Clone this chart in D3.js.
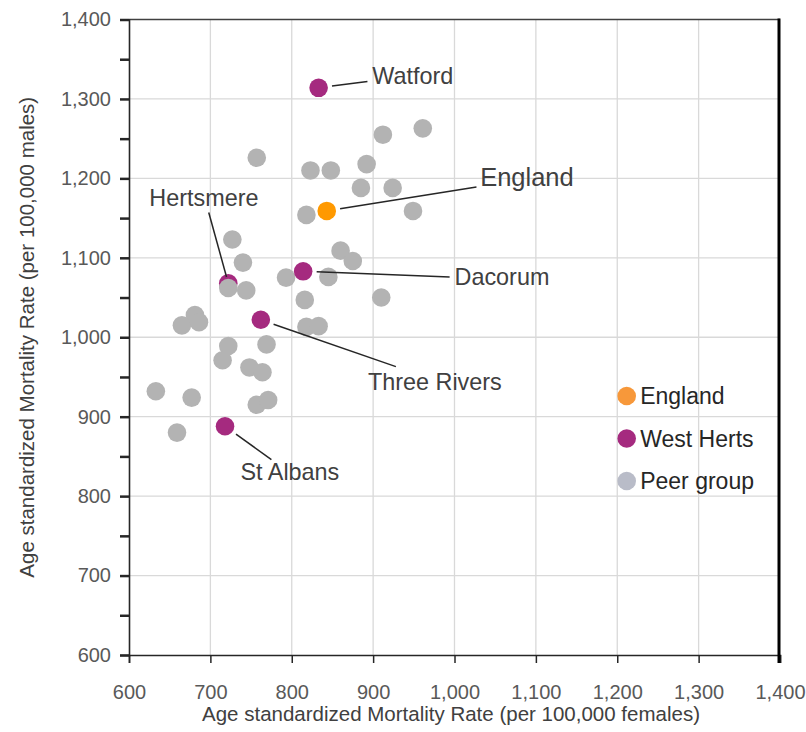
<!DOCTYPE html>
<html>
<head>
<meta charset="utf-8">
<script src="https://cdn.jsdelivr.net/npm/d3@7"></script>
<style>
  body { margin: 0; background: #fff; }
  svg text { font-family: "Liberation Sans", Arial, sans-serif; }
</style>
</head>
<body>
<div id="chart"></div>
<script>
// Peer group local authorities (female rate, male rate)
const peerFemale = [912, 961, 757, 823, 848, 892, 885, 924, 949, 818, 727, 740, 860, 875, 793, 845,
                    722, 744, 816, 910, 681, 665, 686, 818, 833, 722, 769, 715, 748, 764, 633, 677,
                    757, 771, 659]
const peerMale = [1255, 1263, 1226, 1210, 1210, 1218, 1188, 1188, 1159, 1154, 1123, 1094, 1109, 1096, 1075, 1076,
                  1062, 1059, 1047, 1050, 1028, 1015, 1019, 1013, 1014, 989, 991, 971, 962, 956, 932, 924,
                  915, 921, 880]

// West Herts districts
const westNames = ["Hertsmere", "Watford", "Dacorum", "Three Rivers", "St Albans"]
const westFemale = [722, 833, 814, 762, 718]
const westMale = [1068, 1314, 1083, 1022, 888]

// England average
const englandFemale = [843]
const englandMale = [1159]

// Annotations: label anchor and leader line end, in data units
const labelNames = ["Watford", "England", "Hertsmere", "Dacorum", "Three Rivers", "St Albans"]
const labelX = [899, 1031.5, 692, 1000, 893.6, 737]
const labelY = [1319, 1190, 1165, 1066, 934, 820]
const leaderX = [893, 1027, 698, 994, 928, 775]
const leaderY = [1322, 1189, 1157, 1076, 963, 846]

const legendNames = ["England", "West Herts", "Peer group"]
const legendColors = ["#f7983a", "#a52a7f", "#b9bcc8"]

const xTicks = d3.range(600, 1401, 100)
const yTicks = d3.range(600, 1401, 50)

const width = 806
const height = 732
const margin = { top: 19.5, right: 26, bottom: 77, left: 129 }

const svg = d3.select("#chart")
    .append("svg")
    .attr("width", width)
    .attr("height", height)

const x = d3.scaleLinear().domain([600, 1400]).range([margin.left, width - margin.right])
const y = d3.scaleLinear().domain([600, 1400]).range([height - margin.bottom, margin.top])

const colEngland = "#ff9900"
const colWest = "#a52a7f"
const colPeer = "#b3b3b3"
const r = 9.3

// gridlines
svg.append("g")
    .selectAll("line")
    .data(xTicks.slice(1, -1))
    .join("line")
    .attr("x1", d => x(d)).attr("x2", d => x(d))
    .attr("y1", y(1400)).attr("y2", y(600))
    .attr("stroke", "#d9d9d9").attr("stroke-width", 1.3)
svg.append("g")
    .selectAll("line")
    .data(xTicks.slice(1, -1))
    .join("line")
    .attr("y1", d => y(d)).attr("y2", d => y(d))
    .attr("x1", x(600)).attr("x2", x(1400))
    .attr("stroke", "#d9d9d9").attr("stroke-width", 1.3)

// top border
svg.append("line")
    .attr("x1", x(600)).attr("x2", x(1400))
    .attr("y1", y(1400)).attr("y2", y(1400))
    .attr("stroke", "#404040").attr("stroke-width", 1.5)

// axes
const fmt = d3.format(",")
const xAxis = svg.append("g")
    .attr("transform", "translate(0," + y(600) + ")")
    .call(d3.axisBottom(x).tickValues(xTicks).tickSize(8).tickPadding(22).tickFormat(fmt))
xAxis.select(".domain").attr("stroke", "#262626").attr("stroke-width", 1.6)
xAxis.selectAll(".tick line").attr("stroke", "#262626").attr("stroke-width", 1.5)
xAxis.selectAll("text").attr("font-size", 20).attr("fill", "#595959")

const yAxis = svg.append("g")
    .attr("transform", "translate(" + x(600) + ",0)")
    .call(d3.axisLeft(y).tickValues(yTicks).tickSize(9).tickPadding(9)
        .tickFormat(d => d % 100 === 0 ? fmt(d) : ""))
yAxis.select(".domain").attr("stroke", "#262626").attr("stroke-width", 1.6)
yAxis.selectAll(".tick line").attr("stroke", "#262626").attr("stroke-width", 2.5)
yAxis.selectAll("text").attr("font-size", 20).attr("fill", "#595959")

// right border, thick, running past the axis like a tick
svg.append("line")
    .attr("x1", x(1400) - 1).attr("x2", x(1400) - 1)
    .attr("y1", y(1400) - 1).attr("y2", y(600) + 8)
    .attr("stroke", "#000").attr("stroke-width", 3)

// axis titles
svg.append("text")
    .attr("x", 451).attr("y", 720.5)
    .attr("text-anchor", "middle")
    .attr("font-size", 20.5).attr("fill", "#404040")
    .text("Age standardized Mortality Rate (per 100,000 females)")
svg.append("text")
    .attr("transform", "translate(34," + ((y(600) + y(1400)) / 2) + ") rotate(-90)")
    .attr("text-anchor", "middle")
    .attr("font-size", 20.5).attr("fill", "#404040")
    .text("Age standardized Mortality Rate (per 100,000 males)")

// points: Hertsmere sits below the peer markers
const west = westNames.map((n, i) => ({ name: n, f: westFemale[i], m: westMale[i] }))
const peer = peerFemale.map((f, i) => ({ f: f, m: peerMale[i] }))
const england = englandFemale.map((f, i) => ({ f: f, m: englandMale[i] }))

svg.append("g")
    .selectAll("circle")
    .data(west.filter(d => d.name === "Hertsmere"))
    .join("circle")
    .attr("cx", d => x(d.f)).attr("cy", d => y(d.m)).attr("r", r)
    .attr("fill", colWest)

svg.append("g")
    .selectAll("circle")
    .data(peer)
    .join("circle")
    .attr("cx", d => x(d.f)).attr("cy", d => y(d.m)).attr("r", r)
    .attr("fill", colPeer)

svg.append("g")
    .selectAll("circle")
    .data(west.filter(d => d.name !== "Hertsmere"))
    .join("circle")
    .attr("cx", d => x(d.f)).attr("cy", d => y(d.m)).attr("r", r)
    .attr("fill", colWest)

svg.append("g")
    .selectAll("circle")
    .data(england)
    .join("circle")
    .attr("cx", d => x(d.f)).attr("cy", d => y(d.m)).attr("r", r)
    .attr("fill", colEngland)

// leader lines and labels
const pointOf = function (name) {
    if (name === "England") return { f: englandFemale[0], m: englandMale[0] }
    const i = westNames.indexOf(name)
    return { f: westFemale[i], m: westMale[i] }
}
const notes = labelNames.map((n, i) => {
    const p = pointOf(n)
    const px = x(p.f), py = y(p.m)
    const ex = x(leaderX[i]), ey = y(leaderY[i])
    const len = Math.hypot(ex - px, ey - py)
    const gap = n === "Hertsmere" ? 6.5 : 13.5
    return {
        name: n,
        x1: px + (ex - px) * gap / len, y1: py + (ey - py) * gap / len,
        x2: ex, y2: ey,
        tx: x(labelX[i]), ty: y(labelY[i])
    }
})

svg.append("g")
    .selectAll("line")
    .data(notes)
    .join("line")
    .attr("x1", d => d.x1).attr("y1", d => d.y1)
    .attr("x2", d => d.x2).attr("y2", d => d.y2)
    .attr("stroke", "#262626").attr("stroke-width", 1.5)

svg.append("g")
    .selectAll("text")
    .data(notes)
    .join("text")
    .attr("x", d => d.tx).attr("y", d => d.ty)
    .attr("text-anchor", d => d.name === "Hertsmere" ? "middle" : "start")
    .attr("font-size", d => d.name === "England" ? 25.5 : 23.4)
    .attr("fill", "#404040")
    .text(d => d.name)

// legend
const legend = svg.append("g")
    .selectAll("g")
    .data(legendNames)
    .join("g")
    .attr("transform", (d, i) => "translate(626.7," + (396 + i * 42.5) + ")")
legend.append("circle")
    .attr("r", r)
    .attr("fill", (d, i) => legendColors[i])
legend.append("text")
    .attr("x", 13.5).attr("y", 8.3)
    .attr("font-size", 23)
    .attr("fill", "#262626")
    .text(d => d)
</script>
</body>
</html>
